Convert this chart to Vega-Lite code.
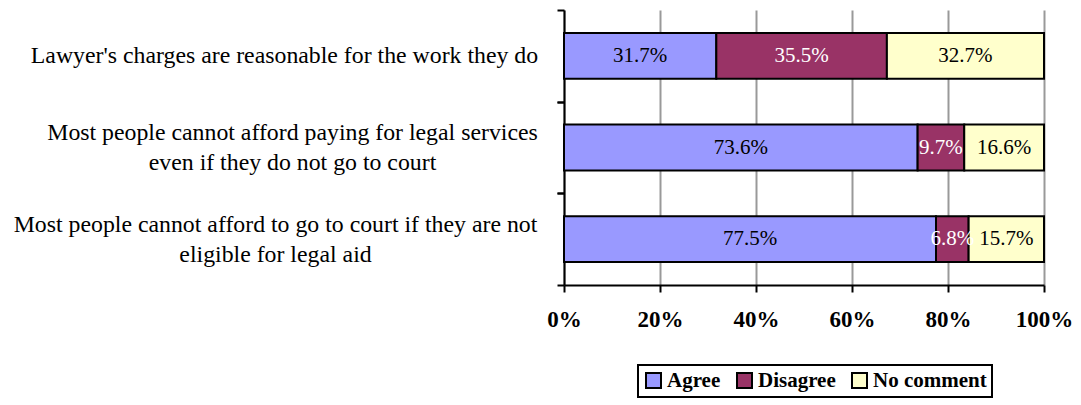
{
  "$schema": "https://vega.github.io/schema/vega-lite/v6.json",
  "autosize": {"type": "none"},
  "padding": {"left": 564, "top": 10, "right": 37, "bottom": 120},
  "width": 480,
  "height": 275,
  "background": "white",
  "config": {
    "view": {"stroke": null},
    "font": "Liberation Serif"
  },
  "data": {
    "values": [
      {"question": "Lawyer's charges are reasonable for the work they do", "response": "Agree", "order": 1, "value": 0.317},
      {"question": "Lawyer's charges are reasonable for the work they do", "response": "Disagree", "order": 2, "value": 0.355},
      {"question": "Lawyer's charges are reasonable for the work they do", "response": "No comment", "order": 3, "value": 0.327},
      {"question": "Most people cannot afford paying for legal services even if they do not go to court", "response": "Agree", "order": 1, "value": 0.736},
      {"question": "Most people cannot afford paying for legal services even if they do not go to court", "response": "Disagree", "order": 2, "value": 0.097},
      {"question": "Most people cannot afford paying for legal services even if they do not go to court", "response": "No comment", "order": 3, "value": 0.166},
      {"question": "Most people cannot afford to go to court if they are not eligible for legal aid", "response": "Agree", "order": 1, "value": 0.775},
      {"question": "Most people cannot afford to go to court if they are not eligible for legal aid", "response": "Disagree", "order": 2, "value": 0.068},
      {"question": "Most people cannot afford to go to court if they are not eligible for legal aid", "response": "No comment", "order": 3, "value": 0.157}
    ]
  },
  "transform": [
    {"stack": "value", "groupby": ["question"], "sort": [{"field": "order", "order": "ascending"}], "offset": "normalize", "as": ["x0", "x1"]},
    {"calculate": "(datum.x0 + datum.x1) / 2", "as": "mid"}
  ],
  "resolve": {"axis": {"y": "independent"}},
  "layer": [
    {
      "mark": {"type": "bar", "stroke": "black", "strokeWidth": 2},
      "encoding": {
        "y": {
          "field": "question",
          "type": "nominal",
          "sort": null,
          "scale": {"paddingInner": 0.5, "paddingOuter": 0.25},
          "axis": {
            "orient": "left",
            "title": null,
            "domain": true,
            "domainColor": "black",
            "domainWidth": 2,
            "ticks": true,
            "bandPosition": 1,
            "tickOffset": 22.92,
            "tickColor": "black",
            "tickWidth": 2,
            "tickSize": 7,
            "labelFont": "Liberation Serif",
            "labelFontSize": 23.8,
            "labelColor": "black",
            "labelLimit": 700,
            "labelAlign": "center",
            "labelLineHeight": 30,
            "labelOffset": {
              "condition": {"test": "datum.value != 'Lawyer\\'s charges are reasonable for the work they do'", "value": -37.92},
              "value": -22.92
            },
            "labelPadding": {
              "condition": [
                {"test": "datum.value == 'Most people cannot afford paying for legal services even if they do not go to court'", "value": 265},
                {"test": "datum.value == 'Most people cannot afford to go to court if they are not eligible for legal aid'", "value": 282}
              ],
              "value": 273
            },
            "labelExpr": "datum.value == 'Most people cannot afford paying for legal services even if they do not go to court' ? ['Most people cannot afford paying for legal services', 'even if they do not go to court'] : datum.value == 'Most people cannot afford to go to court if they are not eligible for legal aid' ? ['Most people cannot afford to go to court if they are not', 'eligible for legal aid'] : datum.value"
          }
        },
        "x": {
          "field": "x0",
          "type": "quantitative",
          "scale": {"domain": [0, 1], "nice": false, "zero": true},
          "axis": {
            "title": null,
            "values": [0, 0.2, 0.4, 0.6, 0.8, 1],
            "format": ".0%",
            "grid": true,
            "gridColor": "#999999",
            "gridWidth": 2,
            "domainColor": "black",
            "domainWidth": 2,
            "tickColor": "black",
            "tickWidth": 2,
            "tickSize": 7,
            "labelFont": "Liberation Serif",
            "labelFontSize": 23,
            "labelFontWeight": "bold",
            "labelColor": "black",
            "labelPadding": 16,
            "labelFlush": false
          }
        },
        "x2": {"field": "x1"},
        "color": {
          "field": "response",
          "type": "nominal",
          "scale": {"domain": ["Agree", "Disagree", "No comment"], "range": ["#9999FF", "#993366", "#FFFFCC"]},
          "legend": {
            "title": null,
            "orient": "none",
            "legendX": 74,
            "legendY": 355,
            "direction": "horizontal",
            "symbolType": "square",
            "symbolSize": 225,
            "symbolStrokeColor": "black",
            "symbolStrokeWidth": 2,
            "symbolOpacity": 1,
            "labelFont": "Liberation Serif",
            "labelFontSize": 21,
            "labelFontWeight": "bold",
            "labelColor": "black",
            "labelOffset": 3,
            "columnPadding": 12,
            "padding": 5,
            "strokeColor": "black",
            "fillColor": "white",
            "labelLimit": 300,
            "encode": {"legend": {"update": {"strokeWidth": {"value": 2}}}}
          }
        }
      }
    },
    {
      "mark": {"type": "text", "font": "Liberation Serif", "fontSize": 21, "baseline": "middle", "align": "center"},
      "encoding": {
        "y": {
          "field": "question",
          "type": "nominal",
          "sort": null,
          "axis": {
            "orient": "left",
            "title": null,
            "domain": false,
            "labels": false,
            "ticks": true,
            "bandPosition": 0,
            "tickOffset": -22.92,
            "tickColor": "black",
            "tickWidth": 2,
            "tickSize": 7
          }
        },
        "x": {"field": "mid", "type": "quantitative"},
        "text": {"field": "value", "type": "quantitative", "format": ".1%"},
        "color": {
          "condition": {"test": "datum.response == 'Disagree'", "value": "white"},
          "value": "black"
        }
      }
    }
  ]
}
